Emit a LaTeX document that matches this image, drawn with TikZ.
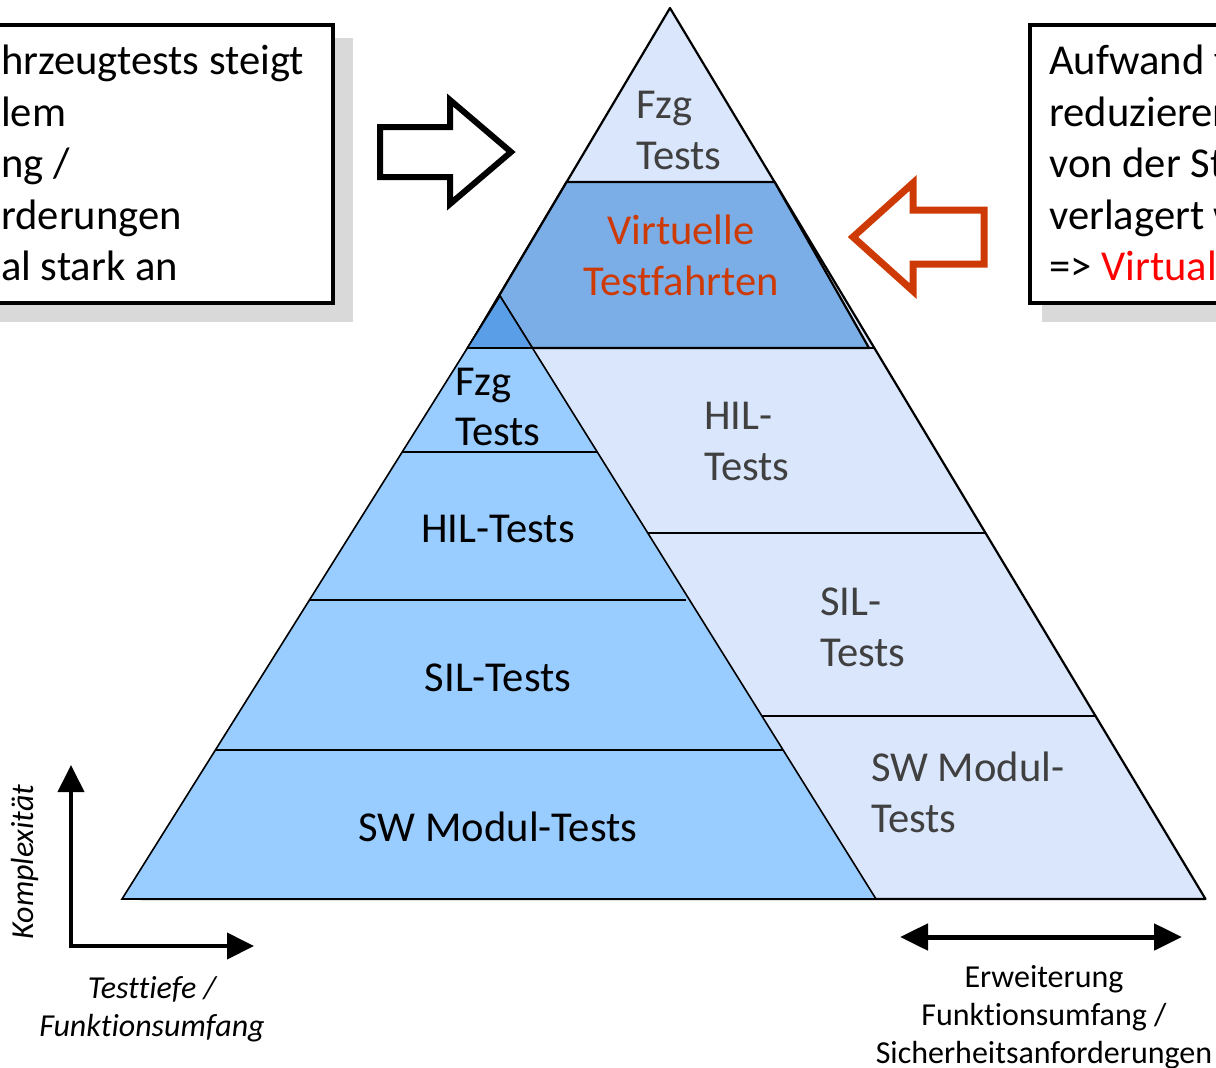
\documentclass[tikz,border=0pt]{standalone}
\usepackage{fontspec}
\setmainfont{Carlito}[Ligatures=NoCommon]
\usetikzlibrary{arrows.meta}
\definecolor{paleblue}{RGB}{217,230,252}
\definecolor{skyblue}{RGB}{153,204,255}
\definecolor{trapblue}{RGB}{123,174,230}
\definecolor{tipblue}{RGB}{89,158,230}
\definecolor{txtgray}{RGB}{64,64,64}
\definecolor{rust}{RGB}{206,58,6}
\definecolor{shadowgray}{RGB}{217,217,217}
\tikzset{
  lbl/.style={font=\fontsize{42.6}{51}\selectfont, inner sep=0pt},
  graylbl/.style={lbl, text=txtgray},
  small/.style={font=\fontsize{32}{38}\selectfont, inner sep=0pt},
  smallit/.style={font=\fontsize{32}{38}\selectfont\itshape, inner sep=0pt},
  rim/.style={draw=black, line width=2.2pt, line join=round},
  band/.style={draw=black, line width=1.6pt},
  callout/.style={draw=black, line width=4pt, fill=white},
  shade/.style={fill=shadowgray},
  blockarrow/.style={line width=6pt, line join=miter, fill=white},
  axis/.style={line width=4pt, -{Triangle[length=27pt,width=26pt]}},
}
\begin{document}
\begin{tikzpicture}[x=1pt,y=-1pt]
\useasboundingbox (0,0) rectangle (1216,1068);

% ---------- outer pyramid ----------
\coordinate (apex) at (670,8);
\coordinate (obl) at (140.7,899);
\coordinate (obr) at (1205.5,899);
\fill[paleblue] (apex) -- (obl) -- (obr) -- cycle;
\draw[rim] (apex) -- (obl) -- (obr) -- cycle;

% band borders on the right-hand side
\coordinate (b1l) at (566.6,182); \coordinate (b1r) at (774.6,182);
\coordinate (b2l) at (468.0,348); \coordinate (b2r) at (874.3,348);
\coordinate (b3l) at (647.8,533); \coordinate (b3r) at (985.5,533);
\coordinate (b4l) at (761.9,716); \coordinate (b4r) at (1095.5,716);
\draw[band] (b1l) -- (b1r);
\draw[band] (b2l) -- (b2r);
\draw[band] (b3l) -- (b3r);
\draw[band] (b4l) -- (b4r);

% virtual test drives band
\coordinate (t3) at (869,348);
\fill[trapblue] (b1l) -- (b1r) -- (t3) -- (b2l) -- cycle;
\draw[rim] (b1l) -- (b1r) -- (t3) -- (b2l) -- cycle;

% ---------- inner pyramid ----------
\coordinate (iapex) at (500,296);
\coordinate (ibl) at (122,899);
\coordinate (ibr) at (876,899);
\fill[skyblue] (iapex) -- (ibl) -- (ibr) -- cycle;
\draw[band] (iapex) -- (ibl) -- (ibr) -- cycle;
\coordinate (tl) at (467.4,348); \coordinate (tr) at (532.4,348);
\fill[tipblue] (iapex) -- (tl) -- (tr) -- cycle;
\draw[band] (iapex) -- (tl) -- (tr) -- cycle;
\coordinate (i1l) at (402.2,452); \coordinate (i1r) at (597.3,452);
\coordinate (i2l) at (309.4,600); \coordinate (i2r) at (686,600);
\coordinate (i3l) at (215.4,750); \coordinate (i3r) at (783.1,750);
\draw[band] (i1l) -- (i1r);
\draw[band] (i2l) -- (i2r);
\draw[band] (i3l) -- (i3r);

% ---------- pyramid labels ----------
\node[graylbl, anchor=base west] (fzgA) at (636,118) {Fzg};
\node[graylbl, anchor=base west] (fzgB) at (636,169) {Tests};
\node[lbl, text=rust, anchor=base] (virtA) at (681,244) {Virtuelle};
\node[lbl, text=rust, anchor=base] (virtB) at (681,295) {Testfahrten};
\node[lbl, anchor=base west] (lfzgA) at (455,395) {Fzg};
\node[lbl, anchor=base west] (lfzgB) at (455,445) {Tests};
\node[lbl, anchor=base] (lhil) at (498,542) {HIL-Tests};
\node[lbl, anchor=base] (lsil) at (498,691) {SIL-Tests};
\node[lbl, anchor=base] (lsw) at (498,841) {SW Modul-Tests};
\node[graylbl, anchor=base west] (rhilA) at (704,429) {HIL-};
\node[graylbl, anchor=base west] (rhilB) at (704,480) {Tests};
\node[graylbl, anchor=base west] (rsilA) at (820,615) {SIL-};
\node[graylbl, anchor=base west] (rsilB) at (820,666) {Tests};
\node[graylbl, anchor=base west] (rswA) at (871,781) {SW Modul-};
\node[graylbl, anchor=base west] (rswB) at (871,832) {Tests};

% ---------- callout boxes ----------
\fill[shade] (-20,38) rectangle (353,322);
\draw[callout] (-20,25) rectangle (333,303);
\node[lbl, anchor=base west] (lbA) at (1,74.5) {hrzeugtests steigt};
\node[lbl, anchor=base west] (lbB) at (1,126) {lem};
\node[lbl, anchor=base west] (lbC) at (1,177.5) {ng /};
\node[lbl, anchor=base west] (lbD) at (1,229) {rderungen};
\node[lbl, anchor=base west] (lbE) at (1,280.5) {al stark an};

\fill[shade] (1042,38) rectangle (1240,322);
\draw[callout] (1029.5,25) rectangle (1240,303);
\node[lbl, anchor=base west] (rbA) at (1049,74.5) {Aufwand f};
\node[lbl, anchor=base west] (rbB) at (1049,126) {reduzieren};
\node[lbl, anchor=base west] (rbC) at (1049,177.5) {von der St};
\node[lbl, anchor=base west] (rbD) at (1049,229) {verlagert w};
\node[lbl, anchor=base west] (rbE) at (1049,280.5) {=> \textcolor{red}{Virtual}};

% ---------- block arrows ----------
\draw[blockarrow, draw=black] (380,127) -- (450,127) -- (450,100) -- (511,152)
  -- (450,204) -- (450,177) -- (380,177) -- cycle;
\draw[blockarrow, draw=rust, line width=7pt] (984,210) -- (913,210) -- (913,183)
  -- (853,237) -- (913,291) -- (913,264) -- (984,264) -- cycle;

% ---------- axes ----------
\coordinate (origin) at (71,946);
\coordinate (ytop) at (71,765);
\coordinate (xend) at (254,946);
\draw[axis] (origin) -- (ytop);
\draw[axis] ([xshift=-2pt]origin) -- (xend);
\node[smallit, rotate=90, anchor=base] (kompl) at (34,862) {Komplexität};
\node[smallit, anchor=base] (ttA) at (152,998) {Testtiefe /};
\node[smallit, anchor=base] (ttB) at (152,1036) {Funktionsumfang};

% ---------- scope arrow ----------
\coordinate (sl) at (900,937);
\coordinate (sr) at (1182,937);
\draw[line width=5pt, {Triangle[length=28pt,width=26pt]}-{Triangle[length=28pt,width=26pt]}] (sl) -- (sr);
\node[small, anchor=base] (ewA) at (1044,987) {Erweiterung};
\node[small, anchor=base] (ewB) at (1044,1025) {Funktionsumfang /};
\node[small, anchor=base] (ewC) at (1044,1063) {Sicherheitsanforderungen};
\end{tikzpicture}
\end{document}
